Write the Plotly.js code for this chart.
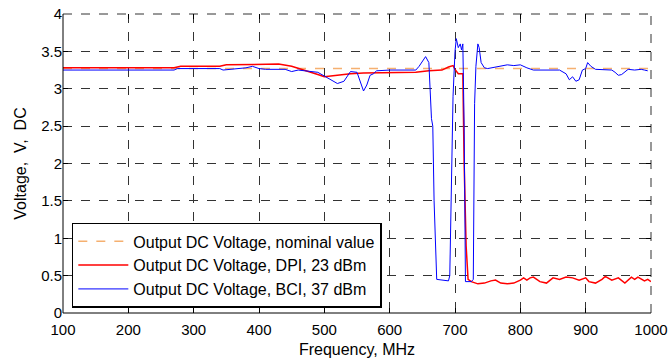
<!DOCTYPE html>
<html>
<head>
<meta charset="utf-8">
<script src="https://cdn.plot.ly/plotly-3.0.1.min.js"></script>
<style>html,body{margin:0;padding:0;background:#fff}#chart{width:668px;height:360px}</style>
</head>
<body>
<div id="chart"></div>
<script>
// Nominal value
const nomFreq = [100, 1000];
const nomVolt = [3.27, 3.27];

// DPI, 23 dBm
const dpiFreq = [100, 200, 270, 280, 340, 350, 380, 400, 430, 450, 470, 490, 500, 520, 540, 560, 600, 620, 640, 660, 680, 690, 697, 700, 705, 712, 714, 717, 720, 725, 735, 745, 755, 762, 770, 780, 790, 800, 805, 810, 815, 820, 830, 840, 850, 860, 870, 880, 890, 900, 905, 915, 925, 930, 940, 950, 960, 970, 975, 980, 990, 995, 1000];
const dpiVolt = [3.28, 3.28, 3.28, 3.30, 3.30, 3.32, 3.32, 3.33, 3.33, 3.30, 3.25, 3.19, 3.16, 3.18, 3.20, 3.21, 3.21, 3.21, 3.22, 3.24, 3.25, 3.29, 3.31, 3.26, 3.20, 3.20, 2.0, 0.9, 0.45, 0.42, 0.39, 0.40, 0.43, 0.44, 0.40, 0.39, 0.40, 0.44, 0.47, 0.44, 0.47, 0.48, 0.42, 0.40, 0.47, 0.45, 0.48, 0.47, 0.44, 0.47, 0.42, 0.40, 0.45, 0.49, 0.44, 0.47, 0.40, 0.48, 0.45, 0.48, 0.43, 0.45, 0.42];

// BCI, 37 dBm
const bciFreq = [100, 200, 270, 275, 280, 340, 345, 360, 380, 390, 400, 410, 430, 440, 450, 460, 470, 480, 490, 500, 510, 520, 530, 535, 540, 550, 555, 560, 565, 570, 575, 580, 600, 640, 645, 650, 655, 660, 662, 664, 666, 668, 672, 680, 690, 692, 695, 697, 700, 702, 705, 708, 710, 712, 714, 716, 725, 728, 730, 732, 735, 737, 740, 745, 750, 760, 770, 780, 790, 800, 810, 820, 860, 870, 875, 880, 885, 890, 895, 900, 903, 908, 915, 940, 945, 950, 955, 960, 965, 975, 985, 990, 995];
const bciVolt = [3.25, 3.25, 3.25, 3.27, 3.27, 3.27, 3.25, 3.26, 3.28, 3.30, 3.27, 3.26, 3.26, 3.26, 3.23, 3.25, 3.24, 3.23, 3.22, 3.17, 3.12, 3.07, 3.10, 3.17, 3.23, 3.22, 3.10, 2.97, 3.05, 3.18, 3.20, 3.24, 3.25, 3.25, 3.30, 3.37, 3.43, 3.35, 3.00, 2.60, 2.50, 1.50, 0.45, 0.44, 0.43, 0.50, 2.00, 2.90, 3.50, 3.67, 3.55, 3.60, 3.52, 3.60, 2.50, 0.42, 0.42, 0.45, 2.80, 3.30, 3.60, 3.55, 3.35, 3.28, 3.27, 3.29, 3.30, 3.32, 3.31, 3.32, 3.28, 3.25, 3.25, 3.20, 3.12, 3.16, 3.10, 3.12, 3.25, 3.27, 3.35, 3.30, 3.26, 3.25, 3.22, 3.18, 3.19, 3.22, 3.26, 3.25, 3.26, 3.25, 3.24];

const xTicks = [100, 200, 300, 400, 500, 600, 700, 800, 900, 1000];
const yTicks = [0, 0.5, 1, 1.5, 2, 2.5, 3, 3.5, 4];
const yTickText = ['0', '0.5', '1', '1.5', '2', '2.5', '3', '3.5', '4'];

const FONT = 'Liberation Sans, Arial, sans-serif';

const traces = [
  {x: nomFreq, y: nomVolt, mode: 'lines', name: 'Output DC Voltage, nominal value',
   line: {color: '#f5b070', width: 1.5, dash: 'dash'}},
  {x: dpiFreq, y: dpiVolt, mode: 'lines', name: 'Output DC Voltage, DPI, 23 dBm',
   line: {color: '#ff0000', width: 1.5}},
  {x: bciFreq, y: bciVolt, mode: 'lines', name: 'Output DC Voltage, BCI, 37 dBm',
   line: {color: '#0000ff', width: 1}}
];

const axisCommon = {
  showgrid: true, gridcolor: '#333', griddash: 'dash', gridwidth: 1,
  zeroline: false, ticks: 'inside', ticklen: 5, tickcolor: '#000',
  mirror: 'ticks', showline: false, ticklabeloverflow: 'allow',
  tickfont: {family: FONT, size: 15, color: '#000'}
};

const layout = {
  width: 668, height: 360,
  margin: {l: 63, r: 17, t: 14, b: 47},
  paper_bgcolor: '#fff', plot_bgcolor: '#fff',
  showlegend: true,
  legend: {x: 0.015, y: 0.017, xanchor: 'left', yanchor: 'bottom',
    bgcolor: '#fff', bordercolor: '#000', borderwidth: 1.5,
    font: {family: FONT, size: 16, color: '#000'},
    tracegroupgap: 0, itemwidth: 50},
  xaxis: Object.assign({}, axisCommon, {
    range: [100, 1000], tickvals: xTicks, ticktext: xTicks.map(String),
    ticklabelstandoff: 6,
    title: {text: 'Frequency, MHz', standoff: 6, font: {family: FONT, size: 16, color: '#000'}}
  }),
  yaxis: Object.assign({}, axisCommon, {
    range: [0, 4], tickvals: yTicks, ticktext: yTickText,
    title: {text: 'Voltage,  V,  DC', standoff: 10, font: {family: FONT, size: 16, color: '#000'}}
  }),
  shapes: [
    {type: 'line', xref: 'paper', yref: 'paper', x0: 1, x1: 1, y0: 0, y1: 1, layer: 'below', line: {color: '#777', width: 1.5, dash: 'dash'}},
    {type: 'line', xref: 'paper', yref: 'paper', x0: 0, x1: 1, y0: 1, y1: 1, layer: 'below', line: {color: '#333', width: 1, dash: 'dash'}},
    {type: 'line', xref: 'paper', yref: 'paper', x0: 0, x1: 1, y0: 0, y1: 0, line: {color: '#000', width: 1}},
    {type: 'line', xref: 'paper', yref: 'paper', x0: 0, x1: 0, y0: 0, y1: 1, line: {color: '#000', width: 1}}
  ]
};

Plotly.newPlot('chart', traces, layout, {staticPlot: true, displayModeBar: false});
</script>
</body>
</html>
